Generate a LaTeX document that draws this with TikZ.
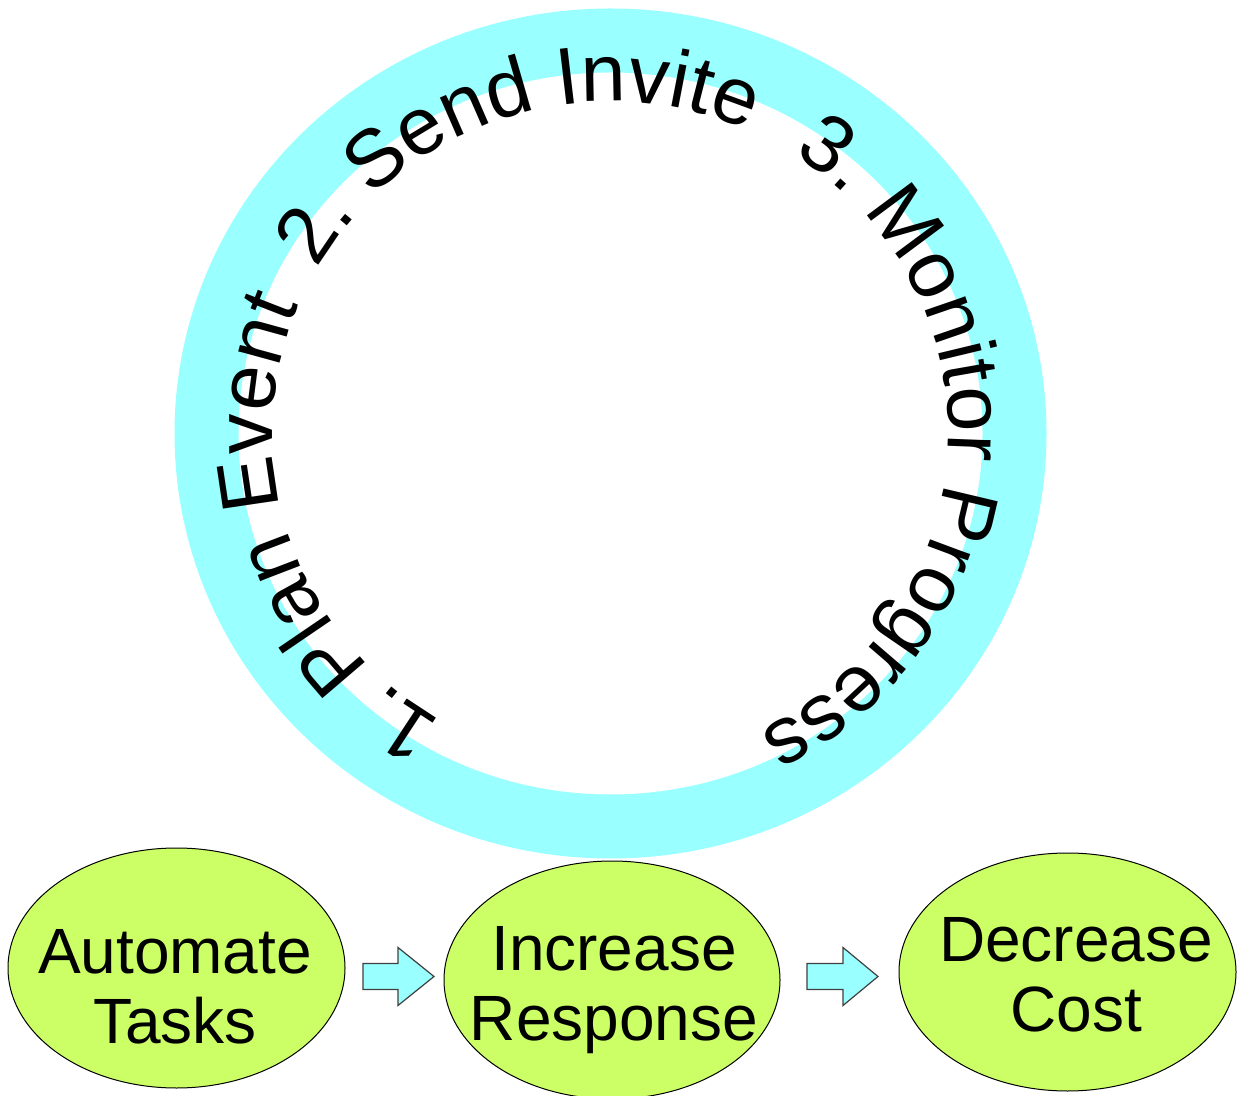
\documentclass[tikz,border=0pt]{standalone}
\usepackage{fontspec}
\setmainfont{Liberation Sans}
\usetikzlibrary{shapes.geometric,decorations.text,calc}
\definecolor{ringcyan}{HTML}{99FFFF}
\definecolor{goallime}{HTML}{CCFF66}
\newcommand{\ringfont}{\fontsize{81}{96}\selectfont}
\newcommand{\goalfont}{\fontsize{64}{70}\selectfont}
\begin{document}
\begin{tikzpicture}[x=1pt,y=1pt,
  goal/.style={ellipse, draw=black, line width=1pt, fill=goallime, inner sep=0pt},
  goaltext/.style={align=center, font=\goalfont, inner sep=0pt},
  blockarr/.style={draw=black!75, line width=1.2pt, fill=ringcyan, line join=miter},
  ringtext/.style={decorate, decoration={text along path, text={#1}, text align=left}}
]
\useasboundingbox (0,0) rectangle (1246,1095);
\coordinate (c) at (610.5,661.5);
% ring
\draw[ringcyan, line width=64pt] (c) ellipse [x radius=404pt, y radius=393pt];
% text along the ring
\path[ringtext={|\ringfont|1. Plan Event}]
  ($(c)+(240:338pt and 332pt)$) arc[start angle=240, end angle=120, x radius=338pt, y radius=332pt];
\path[ringtext={|\ringfont|2. Send Invite}]
  ($(c)+(150.2:338pt and 332pt)$) arc[start angle=150.2, end angle=30, x radius=338pt, y radius=332pt];
\path[ringtext={|\ringfont|3. Monitor Progress}]
  ($(c)+(57.3:338pt and 332pt)$) arc[start angle=57.3, end angle=-90, x radius=338pt, y radius=332pt];
% goals
\node[goal, minimum width=337pt, minimum height=240pt] (g1) at (176.5,127) {};
\node[goal, minimum width=336pt, minimum height=238pt] (g2) at (612,115) {};
\node[goal, minimum width=337pt, minimum height=238pt] (g3) at (1067.5,123) {};
\node[goaltext] (t1) at (175,108) {Automate\\Tasks};
\node[goaltext] (t2) at (614,105) {Increase\\Response};
\node[goaltext] (t3) at (1076,120.5) {Decrease\\Cost};
% block arrows
\coordinate (a1) at (398,118.5);
\coordinate (a2) at (843,118.5);
\draw[blockarr] (a1) ++(-35,13) -- ++(35,0) -- ++(0,16) -- ++(36,-29) -- ++(-36,-29) -- ++(0,16) -- ++(-35,0) -- cycle;
\draw[blockarr] (a2) ++(-36,13) -- ++(36,0) -- ++(0,16) -- ++(35,-29) -- ++(-35,-29) -- ++(0,16) -- ++(-36,0) -- cycle;
\end{tikzpicture}
\end{document}
